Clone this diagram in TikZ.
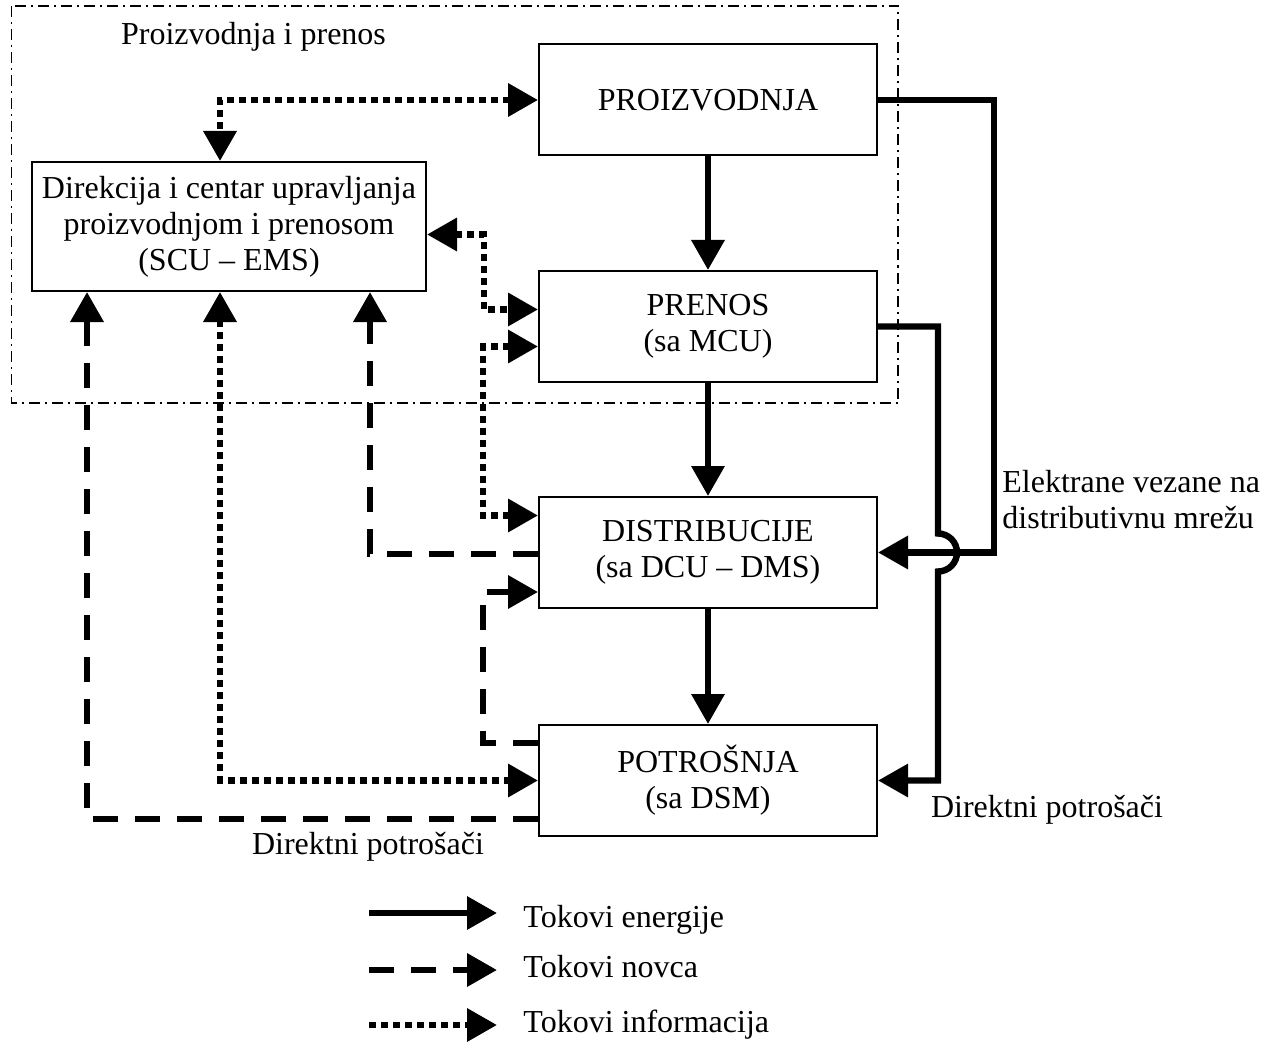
\documentclass[tikz,border=0pt]{standalone}
\usepackage{fontspec}
\setmainfont{Liberation Serif}
\usetikzlibrary{arrows.meta,calc}
\tikzset{
  >={Triangle[length=15pt,width=16pt]},
  blok/.style={draw,line width=1pt,minimum width=169pt,minimum height=55.5pt,align=center,inner sep=0pt},
  energy/.style={line width=3.2pt},
  money/.style={line width=3.3pt,dash pattern=on 12.5pt off 8.5pt},
  info/.style={line width=3.3pt,dash pattern=on 3.4pt off 2.6pt},
  frame/.style={line width=.65pt,dash pattern=on 5.5pt off 2.5pt on 1pt off 2.5pt},
  lbl/.style={inner sep=0pt},
}
\begin{document}
\begin{tikzpicture}[x=.5pt,y=.5pt,font=\fontsize{16}{18}\selectfont]
  \useasboundingbox (0,0) rectangle (1263,1041);
  \draw[frame] (11.5,1035) rectangle (898,638);%proizvodnja i prenos
  \node[lbl] (pp) at (253.5,1004) {Proizvodnja i prenos};
  \node[blok] (proiz) at (708,941) {PROIZVODNJA};
  \node[blok,minimum width=197pt,minimum height=64.5pt] (dir) at (229,814.5)
    {Direkcija i centar upravljanja\\proizvodnjom i prenosom\\(SCU – EMS)};
  \node[blok] (pren) at (708,714.5) {PRENOS\\(sa MCU)};
  \node[blok] (dist) at (708,488.5) {DISTRIBUCIJE\\(sa DCU – DMS)};
  \node[blok] (potr) at (708,260.5) {POTROŠNJA\\(sa DSM)};
  % energija
  \draw[energy,->] (proiz) -- (pren);
  \draw[energy,->] (pren) -- (dist);
  \draw[energy,->] (dist) -- (potr);
  \draw[energy,->] (proiz.east) -| ($(dist.east)+(116,0)$) -- (dist.east);
  \draw[energy,->] (pren.east) -| ($(dist.east)+(60,19)$)
    arc[start angle=90,end angle=-90,radius=19] |- (potr.east);%preskok
  % informacije
  \draw[info,<->] (proiz.west) -| ($(dir.north)+(-9,0)$);
  \draw[info,<->] ($(dir.east)+(0,-8)$) -| ($(pren.west)+(-54,17)$) -- ($(pren.west)+(0,17)$);
  \draw[info,<->] ($(pren.west)+(0,-20)$) -| ($(dist.west)+(-55,37)$) -- ($(dist.west)+(0,37)$);
  \draw[info,<->] ($(dir.south)+(-9,0)$) |- (potr.west);
  % novac
  \draw[money,->] ($(dist.west)+(0,-1.5)$) -| ($(dir.south)+(141,0)$);
  \draw[money,->] ($(potr.west)+(0,37.5)$) -| ($(dist.west)+(-55,-39.5)$) -- ($(dist.west)+(0,-39.5)$);
  \draw[money,->] ($(potr.west)+(0,-38.5)$) -| ($(dir.south)+(-142,0)$);
  % natpisi
  \node[lbl,align=left,anchor=west] (elek) at (1002,541) {Elektrane vezane na\\distributivnu mrežu};
  \node[lbl] (dpd) at (1047,231) {Direktni potrošači};
  \node[lbl] (dpl) at (368,194) {Direktni potrošači};
  % legenda
  \foreach \sty/\txt/\y/\b [count=\i] in {energy/Tokovi energije/128/14,
      money/Tokovi novca/71/7, info/Tokovi informacija/16/7} {
    \coordinate (legs\i) at (369,\y);
    \coordinate (lege\i) at (497,\y);
    \node[lbl,anchor=base west] (leg\i) at (523,\y-\b) {\txt};
    \draw[\sty,->] (legs\i) -- (lege\i);
  }
\end{tikzpicture}
\end{document}
